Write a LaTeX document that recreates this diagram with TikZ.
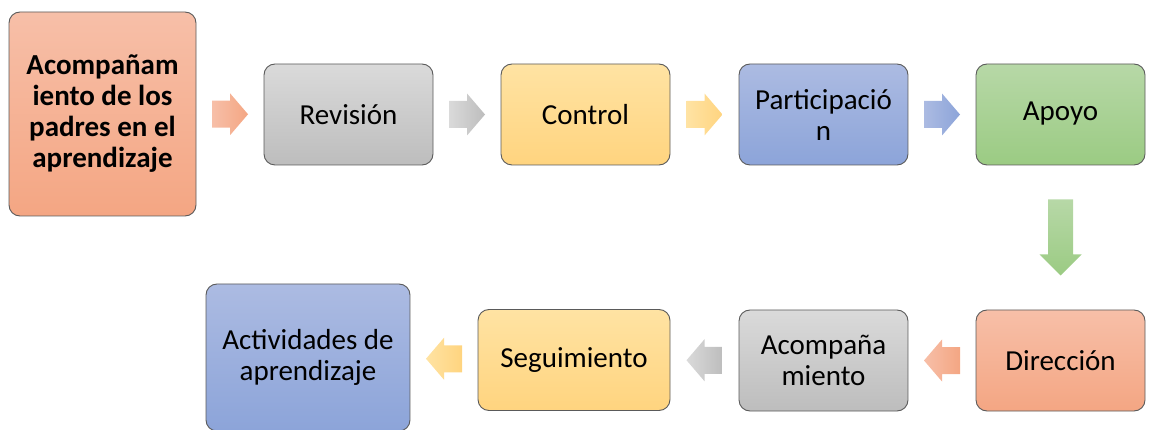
\documentclass[tikz,border=0pt]{standalone}
\usepackage{fontspec}
\setmainfont{Carlito}
\usetikzlibrary{calc}
\definecolor{orT}{HTML}{F7BFA8}\definecolor{orB}{HTML}{F4A683}
\definecolor{grT}{HTML}{DADADA}\definecolor{grB}{HTML}{BDBDBD}
\definecolor{yeT}{HTML}{FFE3A3}\definecolor{yeB}{HTML}{FFD47F}
\definecolor{blT}{HTML}{ACBBE2}\definecolor{blB}{HTML}{8CA4D9}
\definecolor{gnT}{HTML}{B7D8A7}\definecolor{gnB}{HTML}{9BCB83}
\definecolor{edge}{HTML}{5A5A5A}
\tikzset{
  box/.style={draw=edge, line width=0.9pt, rounded corners=11pt, inner sep=0pt,
    align=center, text=black, font=\fontsize{29}{31}\selectfont},
  orbox/.style={box, top color=orT, bottom color=orB},
  grbox/.style={box, top color=grT, bottom color=grB},
  yebox/.style={box, top color=yeT, bottom color=yeB},
  blbox/.style={box, top color=blT, bottom color=blB},
  gnbox/.style={box, top color=gnT, bottom color=gnB},
  arrowfill/.style={draw=none},
}
% horizontal block arrow centred at #1, pointing right (xs=1) or left (xs=-1)
\newcommand\myharrow[3]{%
  \begin{scope}[shift={(#1)}, xscale=#2]
    \path[arrowfill, #3] (-18,-13.5) -- (0,-13.5) -- (0,-21) -- (18,0) -- (0,21) -- (0,13.5) -- (-18,13.5) -- cycle;
  \end{scope}}
\begin{document}
\begin{tikzpicture}[x=1pt,y=-1pt]
\useasboundingbox (0,0) rectangle (1154,430);
% top row
\node[orbox, minimum width=187pt, minimum height=204pt, font=\fontsize{29}{31}\selectfont\bfseries] (a) at (102.5,114)
  {Acompañam\\iento de los\\padres en el\\aprendizaje};
\node[grbox, minimum width=169pt, minimum height=101pt] (b) at (348.5,114.5) {Revisión};
\node[yebox, minimum width=169pt, minimum height=101pt] (c) at (585.5,114.5) {Control};
\node[blbox, minimum width=169pt, minimum height=101pt] (d) at (823.5,114.5) {Participació\\n};
\node[gnbox, minimum width=169pt, minimum height=101pt] (e) at (1060.5,114.5) {\strut Apoyo};
% bottom row
\node[orbox, minimum width=169pt, minimum height=101pt] (f) at (1060.5,360.5) {Dirección};
\node[grbox, minimum width=169pt, minimum height=101pt] (g) at (823.5,360.5) {Acompaña\\miento};
\node[yebox, minimum width=192pt, minimum height=101pt] (h) at (574,360) {Seguimiento};
\node[blbox, minimum width=204pt, minimum height=147pt] (k) at (308,357.5) {Actividades de\\aprendizaje};
% arrow centres
\coordinate (ab) at ($(a.east)!0.5!(b.west)$);
\coordinate (bc) at ($(b.east)!0.5!(c.west)$);
\coordinate (cd) at ($(c.east)!0.5!(d.west)$);
\coordinate (de) at ($(d.east)!0.5!(e.west)$);
\coordinate (ef) at ($(e.south)!0.5!(f.north)$);
\coordinate (fg) at ($(f.west)!0.5!(g.east)$);
\coordinate (gh) at ($(g.west)!0.5!(h.east)$);
\coordinate (hk) at ($(h.west)!0.5!(k.east)$);
% arrows
\myharrow{ab}{1}{left color=orT, right color=orB}
\myharrow{bc}{1}{left color=grT, right color=grB}
\myharrow{cd}{1}{left color=yeT, right color=yeB}
\myharrow{de}{1}{left color=blT, right color=blB}
\begin{scope}[shift={(ef)}]
  \path[arrowfill, top color=gnT, bottom color=gnB] (-12.5,-38) -- (12.5,-38) -- (12.5,17) -- (21,17) -- (0,38) -- (-21,17) -- (-12.5,17) -- cycle;
\end{scope}
\myharrow{fg}{-1}{left color=orT, right color=orB}
\myharrow{gh}{-1}{left color=grT, right color=grB}
\myharrow{hk}{-1}{left color=yeT, right color=yeB}
\end{tikzpicture}
\end{document}
